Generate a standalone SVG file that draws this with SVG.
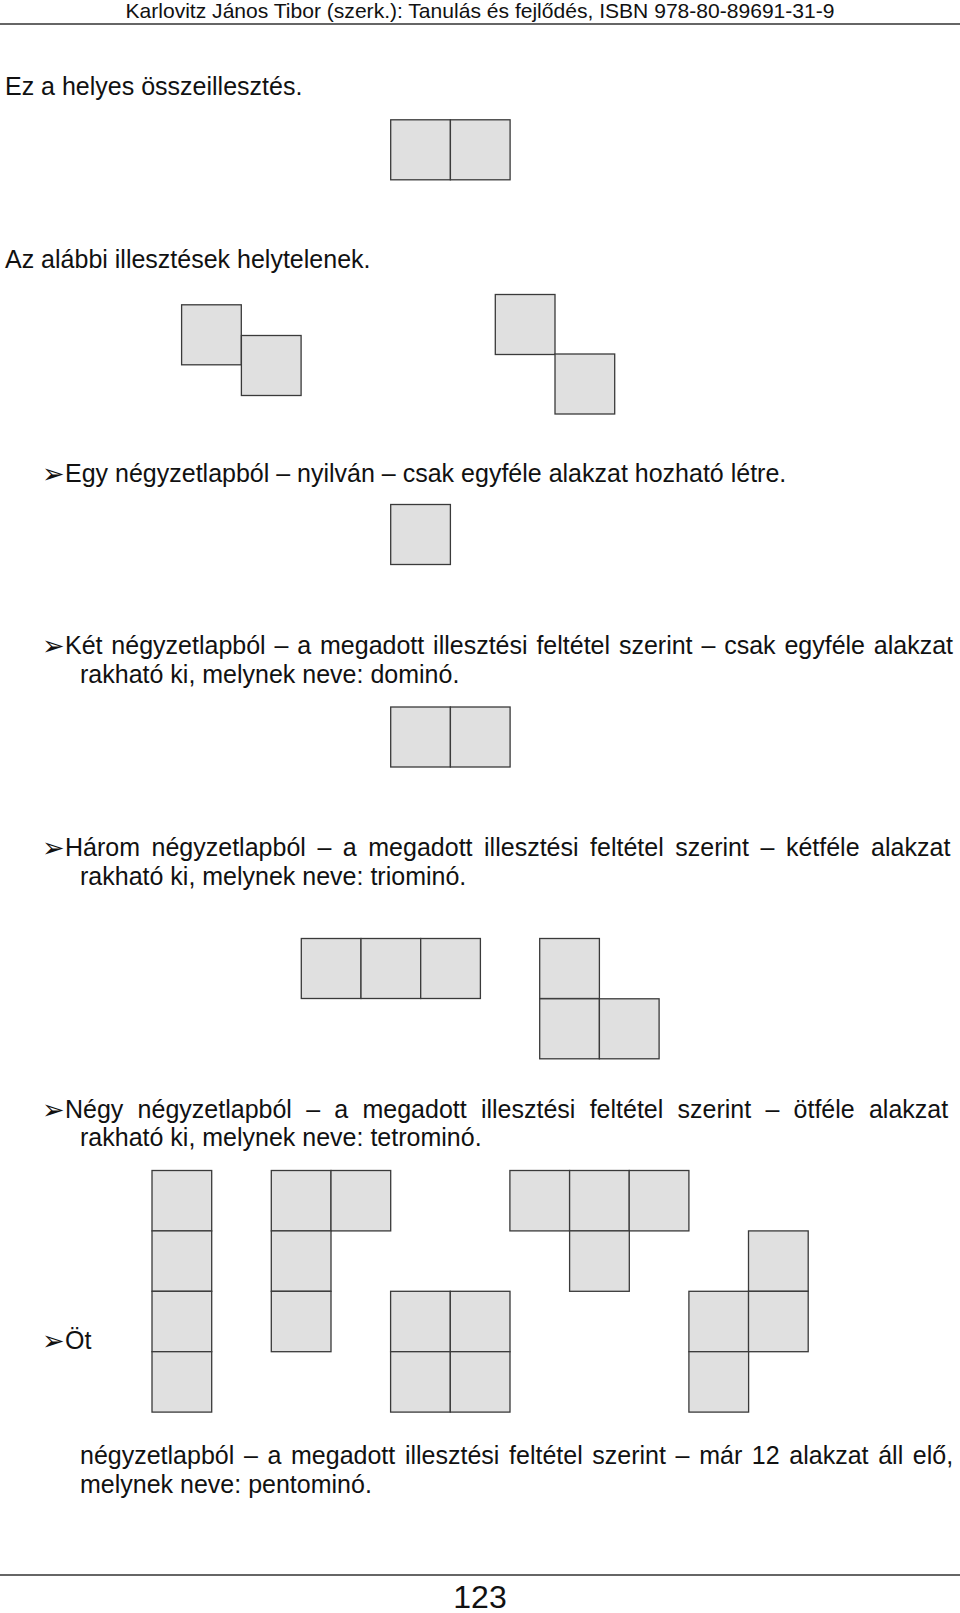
<svg xmlns="http://www.w3.org/2000/svg" width="960" height="1613" viewBox="0 0 960 1613">
<style>
.t{font-family:"Liberation Sans",Arial,sans-serif;font-size:25px;fill:#111}
.h{font-family:"Liberation Sans",Arial,sans-serif;font-size:21px;fill:#111}
.b{font-family:"DejaVu Sans",sans-serif;font-size:27px;fill:#111}
.sq{fill:#e0e0e0;stroke:#3a3a3a;stroke-width:1.3}
.rule{stroke:#333;stroke-width:1.5}
</style>
<defs>
<rect id="s" class="sq" width="59.7" height="60"/>
<rect id="q" class="sq" width="59.7" height="60.4"/>
</defs>
<rect width="960" height="1613" fill="#fff"/>

<g id="header">
<text class="h" x="480" y="17.5" text-anchor="middle" textLength="709" lengthAdjust="spacingAndGlyphs">Karlovitz János Tibor (szerk.): Tanulás és fejlődés, ISBN 978-80-89691-31-9</text>
<line class="rule" x1="0" y1="24" x2="960" y2="24"/>
</g>

<g id="texts">
<text class="t" x="5" y="95">Ez a helyes összeillesztés.</text>
<text class="t" x="5" y="268">Az alábbi illesztések helytelenek.</text>
<text class="b" x="42" y="483">➢</text>
<text class="t" x="65" y="482">Egy négyzetlapból – nyilván – csak egyféle alakzat hozható létre.</text>
<text class="b" x="42" y="655">➢</text>
<text class="t" x="65" y="654" word-spacing="1.9">Két négyzetlapból – a megadott illesztési feltétel szerint – csak egyféle alakzat</text>
<text class="t" x="80" y="683">rakható ki, melynek neve: dominó.</text>
<text class="b" x="42" y="857">➢</text>
<text class="t" x="65" y="856" word-spacing="4.6">Három négyzetlapból – a megadott illesztési feltétel szerint – kétféle alakzat</text>
<text class="t" x="80" y="885">rakható ki, melynek neve: triominó.</text>
<text class="b" x="42" y="1118.5">➢</text>
<text class="t" x="65" y="1117.5" word-spacing="7.3">Négy négyzetlapból – a megadott illesztési feltétel szerint – ötféle alakzat</text>
<text class="t" x="80" y="1146">rakható ki, melynek neve: tetrominó.</text>
<text class="b" x="42" y="1350">➢</text>
<text class="t" x="65" y="1349">Öt</text>
<text class="t" x="80" y="1464" word-spacing="2.7">négyzetlapból – a megadott illesztési feltétel szerint – már 12 alakzat áll elő,</text>
<text class="t" x="80" y="1493">melynek neve: pentominó.</text>
</g>

<g id="domino-correct">
<use href="#s" x="390.7" y="119.8"/>
<use href="#s" x="450.4" y="119.8"/>
</g>
<g id="wrong-halfshift">
<use href="#s" x="181.6" y="304.8"/>
<use href="#s" x="241.4" y="335.5"/>
</g>
<g id="wrong-corner">
<use href="#s" x="495.3" y="294.5"/>
<use href="#s" x="555.0" y="354.0"/>
</g>
<g id="monomino">
<use href="#s" x="390.7" y="504.5"/>
</g>
<g id="domino">
<use href="#s" x="390.7" y="707"/>
<use href="#s" x="450.4" y="707"/>
</g>
<g id="triomino-I">
<use href="#s" x="301.3" y="938.5"/>
<use href="#s" x="361.0" y="938.5"/>
<use href="#s" x="420.7" y="938.5"/>
</g>
<g id="triomino-L">
<use href="#s" x="539.7" y="938.5"/>
<use href="#s" x="539.7" y="998.8"/>
<use href="#s" x="599.4" y="998.8"/>
</g>

<g id="tetromino-I">
<use href="#q" x="152" y="1170.5"/>
<use href="#q" x="152" y="1230.9"/>
<use href="#q" x="152" y="1291.3"/>
<use href="#q" x="152" y="1351.7"/>
</g>
<g id="tetromino-L">
<use href="#q" x="271.3" y="1170.5"/>
<use href="#q" x="331.0" y="1170.5"/>
<use href="#q" x="271.3" y="1230.9"/>
<use href="#q" x="271.3" y="1291.3"/>
</g>
<g id="tetromino-O">
<use href="#q" x="390.6" y="1291.3"/>
<use href="#q" x="450.3" y="1291.3"/>
<use href="#q" x="390.6" y="1351.7"/>
<use href="#q" x="450.3" y="1351.7"/>
</g>
<g id="tetromino-T">
<use href="#q" x="509.9" y="1170.5"/>
<use href="#q" x="569.6" y="1170.5"/>
<use href="#q" x="629.2" y="1170.5"/>
<use href="#q" x="569.6" y="1230.9"/>
</g>
<g id="tetromino-S">
<use href="#q" x="748.5" y="1230.9"/>
<use href="#q" x="688.9" y="1291.3"/>
<use href="#q" x="748.5" y="1291.3"/>
<use href="#q" x="688.9" y="1351.7"/>
</g>

<g id="footer">
<line class="rule" x1="0" y1="1575" x2="960" y2="1575"/>
<text class="h" x="480" y="1608" text-anchor="middle" style="font-size:32px">123</text>
</g>
</svg>
